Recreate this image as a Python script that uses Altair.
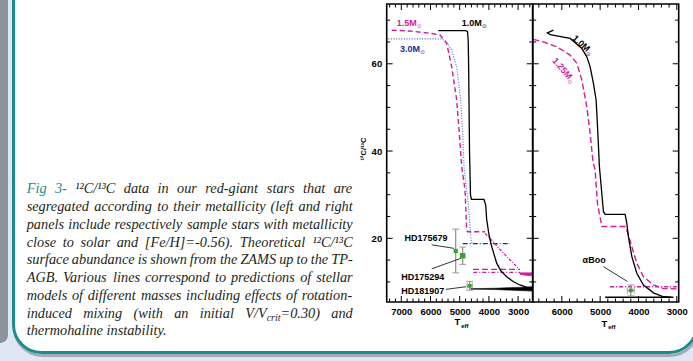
import altair as alt
import pandas as pd

# ---------------- data ----------------
# Left panel: near-solar metallicity.  T_eff [K], 12C/13C
L10_T = [5733, 4801, 4733, 4709, 4695, 4664, 4630, 4596, 4168, 4109, 4075, 3996, 3904, 3733, 3585, 3390, 3174, 2935, 2729, 2500]
L10_V = [67.6, 67.6, 67.4, 65.4, 60.0, 40.0, 29.9, 28.9, 28.9, 27.6, 24.2, 20.8, 18.1, 14.3, 12.5, 11.2, 10.1, 9.3, 8.8, 8.6]
L10_AGB_T = [4620, 4200, 3800, 3400, 3000, 2700, 2500]
L10_AGB_HI = [8.45, 8.5, 8.55, 8.65, 8.75, 8.85, 8.9]
L10_AGB_LO = [8.35, 8.3, 8.25, 8.15, 8.05, 7.95, 7.9]

L15_T = [7329, 6702, 6017, 5674, 5445, 5274, 5103, 5014, 4931, 4818, 4760, 4733, 4133]
L15_V = [67.7, 67.5, 67.0, 66.6, 64.7, 59.3, 51.7, 44.1, 36.4, 31.1, 21.9, 21.5, 21.5]
L15_THM_T = [4133, 3962, 3678, 3390, 3106, 2993]
L15_THM_V = [21.1, 20.0, 17.9, 15.8, 13.9, 13.1]
L15_AGB1_T = [4544, 2935]
L15_AGB1_V = [12.9, 12.9]
L15_AGB2_T = [4534, 2935]
L15_AGB2_V = [12.2, 12.2]
L15_TP_T = [2935, 2700, 2500]
L15_TP_HI = [12.1, 12.1, 12.1]
L15_TP_LO = [11.7, 11.5, 11.4]

L30_T = [7445, 5616, 5445, 5274, 5103, 4966, 4897, 4852, 4784, 4705, 4623, 4589]
L30_V = [65.7, 65.7, 65.0, 63.1, 59.3, 51.7, 44.1, 36.4, 32.2, 28.0, 20.4, 18.9]
L30_HE_T = [4897, 3277]
L30_HE_V = [18.8, 18.8]

# Right panel: [Fe/H] = -0.56
R10_T = [6219, 6376, 6305, 5783, 5478, 5348, 5261, 5175, 5105, 5060, 5019, 4914, 4870, 4348, 4304, 4262, 4173, 4043, 3870, 3609, 3348, 3150]
R10_V = [67.7, 67.1, 66.7, 65.8, 63.5, 61.6, 59.3, 55.5, 51.7, 44.1, 36.4, 26.1, 25.5, 25.5, 23.4, 20.4, 15.8, 12.0, 9.3, 7.5, 6.6, 6.5]
R10_AGB_T = [4870, 3087]
R10_AGB_V = [6.5, 6.5]

R125_T = [6741, 6480, 6131, 5783, 5608, 5478, 5348, 5261, 5191, 5131, 5071, 4956, 4348, 4304, 4173, 4043, 3870, 3609, 3348, 2999]
R125_V = [65.6, 65.0, 63.9, 62.0, 60.1, 56.3, 50.1, 44.1, 37.9, 35.6, 28.0, 22.7, 22.7, 21.9, 18.1, 14.3, 11.2, 9.3, 8.5, 8.4]
R125_AGB_T = [4740, 2999]
R125_AGB_V = [8.9, 8.9]

# observed stars
STAR_NAME = ["HD175679", "HD175294", "HD181907"]
STAR_T = [5137, 4897, 4658]
STAR_V = [17.1, 16.0, 9.1]
STAR_VERR = [5.0, 2.0, 1.0]
STAR_TERR = [0, 0, 90]
BOO_NAME = ["αBoo"]
BOO_T = [4199]
BOO_V = [8.05]
BOO_VERR = [1.25]
BOO_TERR = [90]

# annotation anchors (data coordinates)
STAR_LABEL_T = [6154, 6267, 6267]
STAR_LABEL_V = [20.0, 11.2, 7.9]
STAR_LEAD_T = [5959, 5959, 5469]
STAR_LEAD_V = [18.5, 13.0, 8.3]
STAR_LEAD_T2 = [5195, 4966, 4784]
STAR_LEAD_V2 = [17.7, 15.4, 8.9]
BOO_LABEL_T, BOO_LABEL_V = [5157], [15.0]
BOO_LEAD_T, BOO_LEAD_V = [4914], [13.5]
BOO_LEAD_T2, BOO_LEAD_V2 = [4288], [10.1]

# axis ticks
LX_MAJOR = [7000, 6000, 5000, 4000, 3000]
LX_MINOR = [7400, 7200, 6800, 6600, 6400, 6200, 5800, 5600, 5400, 5200, 4800, 4600, 4400, 4200, 3800, 3600, 3400, 3200, 2800, 2600]
RX_MAJOR = [6000, 5000, 4000, 3000]
RX_MINOR = [6600, 6400, 6200, 5800, 5600, 5400, 5200, 4800, 4600, 4400, 4200, 3800, 3600, 3400, 3200]
Y_MAJOR = [20, 40, 60]
Y_MINOR = [10, 15, 25, 30, 35, 45, 50, 55, 65, 70]

CAPTION_LINES = [
    "Fig 3- ¹²C/¹³C data in our red-giant stars that are",
    "segregated according to their metallicity (left and right",
    "panels include respectively sample stars with metallicity",
    "close to solar and [Fe/H]=-0.56). Theoretical ¹²C/¹³C",
    "surface abundance is shown from the ZAMS up to the TP-",
    "AGB. Various lines correspond to predictions of stellar",
    "models of different masses including effects of rotation-",
    "induced mixing (with an initial V/V_crit=0.30) and",
    "thermohaline instability.",
]

# ---------------- styling ----------------
FONT = "Liberation Sans"
MAG = "#cc1f99"
BLUE = "#4d66e6"
NAVY = "#1d2b96"
GREEN = "#35a52c"
GRAY = "#8c8c8c"
TEAL = "#1d8c8c"
INK = "#231f20"

L_X0, L_X1, R_X1 = 386.7, 532.7, 678.7
Y_TOP, Y_BOT = 4.0, 302.0

XL = alt.Scale(domain=[7500, 2500], range=[L_X0, L_X1], nice=False, zero=False)
XR = alt.Scale(domain=[6760, 2950], range=[L_X1, R_X1], nice=False, zero=False)
YS = alt.Scale(domain=[5.4, 73.7], range=[Y_BOT, Y_TOP], nice=False, zero=False)

one = pd.DataFrame({"a": [0]})
layers = []

# ---------------- poster decoration ----------------
layers.append(alt.Chart(one).mark_rect(color="#8d939b", cornerRadius=8).encode(
    x=alt.value(-20), x2=alt.value(8), y=alt.value(-20), y2=alt.value(343)))
layers.append(alt.Chart(one).mark_rect(fillOpacity=0, stroke="#a3abb5", strokeWidth=3, cornerRadius=28).encode(
    x=alt.value(14.5), x2=alt.value(698), y=alt.value(-40), y2=alt.value(355.5)))
layers.append(alt.Chart(one).mark_rect(fill="white", stroke=TEAL, strokeWidth=3, cornerRadius=28).encode(
    x=alt.value(13.5), x2=alt.value(697), y=alt.value(-40), y2=alt.value(352.5)))

# ---------------- caption (justified, word by word) ----------------
TI = {' ': 250, '(': 333, ')': 333, ',': 250, '-': 333, '.': 250, '/': 278, '=': 675, '[': 389, ']': 389,
      '¹': 300, '²': 300, '³': 300,
      'A': 611, 'B': 611, 'C': 667, 'D': 722, 'E': 611, 'F': 611, 'G': 722, 'H': 722, 'I': 333, 'J': 444,
      'K': 667, 'L': 556, 'M': 833, 'N': 667, 'O': 722, 'P': 611, 'Q': 722, 'R': 611, 'S': 500, 'T': 556,
      'U': 722, 'V': 611, 'W': 833, 'X': 611, 'Y': 556, 'Z': 556,
      'a': 500, 'b': 500, 'c': 444, 'd': 500, 'e': 444, 'f': 278, 'g': 500, 'h': 500, 'i': 278, 'j': 278,
      'k': 444, 'l': 278, 'm': 722, 'n': 500, 'o': 500, 'p': 500, 'q': 500, 'r': 389, 's': 389, 't': 278,
      'u': 500, 'v': 444, 'w': 667, 'x': 444, 'y': 444, 'z': 389}


def tw(s):
    return sum(TI.get(ch, 500) for ch in s) / 1000.0


FS = 14.3
CAP_L, CAP_R = 26.7, 352.7
BASE0, LEAD = 193.3, 17.75
rows = []
for li, line in enumerate(CAPTION_LINES):
    words = line.split(" ")
    segs_all = []
    for w in words:
        if "_crit" in w:
            a, b = w.split("_crit")
            segs_all.append([(a, 1.0, 0.0), ("crit", 0.7, 3.0), (b, 1.0, 0.0)])
        else:
            segs_all.append([(w, 1.0, 0.0)])
    widths = [sum(tw(t) * FS * s for t, s, _ in segs) for segs in segs_all]
    y = BASE0 + li * LEAD
    if li == len(CAPTION_LINES) - 1:
        gap = 0.25 * FS
    else:
        gap = max(2.0, (CAP_R - CAP_L - sum(widths)) / (len(words) - 1))
    x = CAP_L
    for wi, (segs, w) in enumerate(zip(segs_all, widths)):
        sx = x
        for t, s, dy in segs:
            rows.append({"x": sx, "y": y + dy, "t": t, "fs": FS * s,
                         "c": TEAL if (li == 0 and wi < 2) else INK})
            sx += tw(t) * FS * s
        x += w + gap
cap = pd.DataFrame(rows)
layers.append(alt.Chart(cap).mark_text(align="left", baseline="alphabetic", font="Liberation Serif",
                                       fontStyle="italic").encode(
    x=alt.X("x:Q", scale=None, axis=None), y=alt.Y("y:Q", scale=None, axis=None), text="t:N",
    size=alt.Size("fs:Q", scale=None, legend=None), color=alt.Color("c:N", scale=None, legend=None)))


# ---------------- plot helpers ----------------
def line(T, V, xs, color, dash=None, width=1.2):
    df = pd.DataFrame({"T": T, "V": V, "i": list(range(len(T)))})
    kw = dict(color=color, strokeWidth=width)
    if dash:
        kw["strokeDash"] = dash
    return alt.Chart(df).mark_line(**kw).encode(
        x=alt.X("T:Q", scale=xs, axis=None), y=alt.Y("V:Q", scale=YS, axis=None), order="i:Q")


def band(T, hi, lo, xs, color):
    df = pd.DataFrame({"T": T, "hi": hi, "lo": lo})
    return alt.Chart(df).mark_area(color=color, stroke=color, strokeWidth=0.6).encode(
        x=alt.X("T:Q", scale=xs, axis=None), y=alt.Y("hi:Q", scale=YS, axis=None), y2="lo:Q")


def stars(names, T, V, verr, terr, xs, sizes):
    df = pd.DataFrame({"n": names, "T": T, "V": V, "lo": [v - e for v, e in zip(V, verr)],
                       "hi": [v + e for v, e in zip(V, verr)],
                       "tl": [t - e for t, e in zip(T, terr)], "th": [t + e for t, e in zip(T, terr)],
                       "s": sizes})
    xe = alt.X("T:Q", scale=xs, axis=None)
    ye = alt.Y("V:Q", scale=YS, axis=None)
    out = [
        alt.Chart(df).mark_rule(color=GRAY, strokeWidth=1.2).encode(
            x=xe, y=alt.Y("lo:Q", scale=YS, axis=None), y2="hi:Q"),
        alt.Chart(df).mark_tick(color=GRAY, orient="horizontal", size=7, thickness=1.2).encode(
            x=xe, y=alt.Y("lo:Q", scale=YS, axis=None)),
        alt.Chart(df).mark_tick(color=GRAY, orient="horizontal", size=7, thickness=1.2).encode(
            x=xe, y=alt.Y("hi:Q", scale=YS, axis=None)),
    ]
    dfe = df[df["th"] > df["tl"]]
    if len(dfe):
        out += [
            alt.Chart(dfe).mark_rule(color=GRAY, strokeWidth=1.2).encode(
                x=alt.X("tl:Q", scale=xs, axis=None), x2="th:Q", y=ye),
            alt.Chart(dfe).mark_tick(color=GRAY, orient="vertical", size=6, thickness=1.2).encode(
                x=alt.X("tl:Q", scale=xs, axis=None), y=ye),
            alt.Chart(dfe).mark_tick(color=GRAY, orient="vertical", size=6, thickness=1.2).encode(
                x=alt.X("th:Q", scale=xs, axis=None), y=ye),
        ]
    out.append(alt.Chart(df).mark_square(color=GREEN, opacity=1, filled=True).encode(
        x=xe, y=ye, size=alt.Size("s:Q", scale=None, legend=None)))
    return out


def labels(names, T, V, T1, V1, T2, V2, xs):
    df = pd.DataFrame({"n": names, "T": T, "V": V, "T1": T1, "V1": V1, "T2": T2, "V2": V2})
    return [
        alt.Chart(df).mark_rule(color="black", strokeWidth=0.8).encode(
            x=alt.X("T1:Q", scale=xs, axis=None), y=alt.Y("V1:Q", scale=YS, axis=None), x2="T2:Q", y2="V2:Q"),
        alt.Chart(df).mark_text(font=FONT, fontWeight="bold", fontSize=9, color="black",
                                align="center", baseline="middle").encode(
            x=alt.X("T:Q", scale=xs, axis=None), y=alt.Y("V:Q", scale=YS, axis=None), text="n:N"),
    ]


def model_label(txt, T, V, xs, color, angle=0, main_w=20.0):
    df = pd.DataFrame({"T": [T], "V": [V]})
    enc = dict(x=alt.X("T:Q", scale=xs, axis=None), y=alt.Y("V:Q", scale=YS, axis=None))
    kw = dict(align="left", baseline="middle", color=color)
    if angle:
        kw["angle"] = angle
    return [
        alt.Chart(df).mark_text(text=txt, font=FONT, fontWeight="bold", fontSize=9, **kw).encode(**enc),
        alt.Chart(df).mark_text(text="⊙", font="DejaVu Sans", fontSize=5.5, dx=main_w + 0.3, dy=3, **kw).encode(**enc),
    ]


# ---------------- left panel curves ----------------
layers += [
    line(L30_T, L30_V, XL, BLUE, [1, 1.6], 1.1),
    line(L30_HE_T, L30_HE_V, XL, NAVY, [5, 2, 1, 2], 1.3),
    line(L15_T, L15_V, XL, MAG, [5, 3], 1.4),
    line(L15_THM_T, L15_THM_V, XL, MAG, [3, 1.5, 1, 1.5], 1.3),
    line(L15_AGB1_T, L15_AGB1_V, XL, MAG, [6, 3], 1.3),
    line(L15_AGB2_T, L15_AGB2_V, XL, MAG, [4, 2, 1, 2], 1.3),
    band(L15_TP_T, L15_TP_HI, L15_TP_LO, XL, MAG),
    line(L10_T, L10_V, XL, "black", None, 1.3),
    band(L10_AGB_T, L10_AGB_HI, L10_AGB_LO, XL, "black"),
]
# ---------------- right panel curves ----------------
layers += [
    line(R125_T, R125_V, XR, MAG, [6, 3], 1.4),
    line(R125_AGB_T, R125_AGB_V, XR, MAG, [4, 2, 1, 2], 1.5),
    line(R10_T, R10_V, XR, "black", None, 1.3),
    line(R10_AGB_T, R10_AGB_V, XR, "black", None, 1.5),
]

# stars
layers += stars(STAR_NAME, STAR_T, STAR_V, STAR_VERR, STAR_TERR, XL, [18, 30, 14])
layers += stars(BOO_NAME, BOO_T, BOO_V, BOO_VERR, BOO_TERR, XR, [14])
layers += labels(STAR_NAME, STAR_LABEL_T, STAR_LABEL_V, STAR_LEAD_T, STAR_LEAD_V, STAR_LEAD_T2, STAR_LEAD_V2, XL)
layers += labels(BOO_NAME, BOO_LABEL_T, BOO_LABEL_V, BOO_LEAD_T, BOO_LEAD_V, BOO_LEAD_T2, BOO_LEAD_V2, XR)

# model labels
layers += model_label("1.5M", 7157, 69.4, XL, MAG)
layers += model_label("3.0M", 7044, 63.5, XL, NAVY)
layers += model_label("1.0M", 4931, 69.3, XL, "black")
layers += model_label("1.0M", 5690, 66.2, XR, "black", angle=42)
layers += model_label("1.25M", 6201, 61.1, XR, MAG, angle=49, main_w=25.0)

# ---------------- frames and inward ticks ----------------
for x0, x1 in [(L_X0, L_X1), (L_X1, R_X1)]:
    layers.append(alt.Chart(one).mark_rect(fillOpacity=0, stroke="black", strokeWidth=1.6).encode(
        x=alt.value(x0), x2=alt.value(x1), y=alt.value(Y_TOP), y2=alt.value(Y_BOT)))


def xticks(vals, xs, y0, y1):
    return alt.Chart(pd.DataFrame({"t": vals})).mark_rule(color="black", strokeWidth=1).encode(
        x=alt.X("t:Q", scale=xs, axis=None), y=alt.value(y0), y2=alt.value(y1))


def yticks(vals, x0, x1):
    return alt.Chart(pd.DataFrame({"t": vals})).mark_rule(color="black", strokeWidth=1).encode(
        y=alt.Y("t:Q", scale=YS, axis=None), x=alt.value(x0), x2=alt.value(x1))


for maj, mnr, xs in [(LX_MAJOR, LX_MINOR, XL), (RX_MAJOR, RX_MINOR, XR)]:
    layers += [xticks(maj, xs, Y_BOT, Y_BOT - 6), xticks(mnr, xs, Y_BOT, Y_BOT - 3.5),
               xticks(maj, xs, Y_TOP, Y_TOP + 6), xticks(mnr, xs, Y_TOP, Y_TOP + 3.5)]
layers += [yticks(Y_MAJOR, L_X0, L_X0 + 6), yticks(Y_MINOR, L_X0, L_X0 + 3.5),
           yticks(Y_MAJOR, L_X1 - 6, L_X1 + 6), yticks(Y_MINOR, L_X1 - 3.5, L_X1 + 3.5),
           yticks(Y_MAJOR, R_X1 - 6, R_X1), yticks(Y_MINOR, R_X1 - 3.5, R_X1)]

# ---------------- axis labels (drawn above the poster background) ----------------
AX = dict(ticks=False, tickSize=0, domain=False, grid=False, labelFont=FONT, labelFontWeight="bold",
          labelFontSize=9.5, labelColor="black", labelFlush=False, labelOverlap=False, format="d",
          title=None, zindex=2)
layers.append(alt.Chart(pd.DataFrame({"t": LX_MAJOR})).mark_point(opacity=0).encode(
    x=alt.X("t:Q", scale=XL, axis=alt.Axis(values=LX_MAJOR, orient="bottom", offset=-59, labelPadding=4.5, **AX))))
layers.append(alt.Chart(pd.DataFrame({"t": RX_MAJOR})).mark_point(opacity=0).encode(
    x=alt.X("t:Q", scale=XR, axis=alt.Axis(values=RX_MAJOR, orient="bottom", offset=-59, labelPadding=4.5, **AX))))
layers.append(alt.Chart(pd.DataFrame({"v": Y_MAJOR})).mark_point(opacity=0).encode(
    y=alt.Y("v:Q", scale=YS, axis=alt.Axis(values=Y_MAJOR, orient="left", offset=-L_X0, labelPadding=5, **AX))))


# axis titles
def txt(s, x, y, size, angle=0, align="center"):
    kw = dict(text=s, font=FONT, fontWeight="bold", fontSize=size, color="black", align=align, baseline="middle")
    if angle:
        kw["angle"] = angle
    return alt.Chart(one).mark_text(**kw).encode(x=alt.value(x), y=alt.value(y))


layers += [txt("¹²C/¹³C", 364, 149, 7.5, angle=270),
           txt("T", 457.5, 322, 9.5), txt("eff", 461.2, 325.5, 6, align="left"),
           txt("T", 604.5, 323.5, 9.5), txt("eff", 608.2, 327, 6, align="left")]

chart = alt.layer(*layers).properties(
    width=693, height=361, padding=0, background="#dfe7f5",
    autosize=alt.AutoSizeParams(type="none"),
).resolve_scale(x="independent", y="independent").configure_view(strokeWidth=0)

chart.save("out.html", embed_options={"renderer": "svg", "actions": False})
